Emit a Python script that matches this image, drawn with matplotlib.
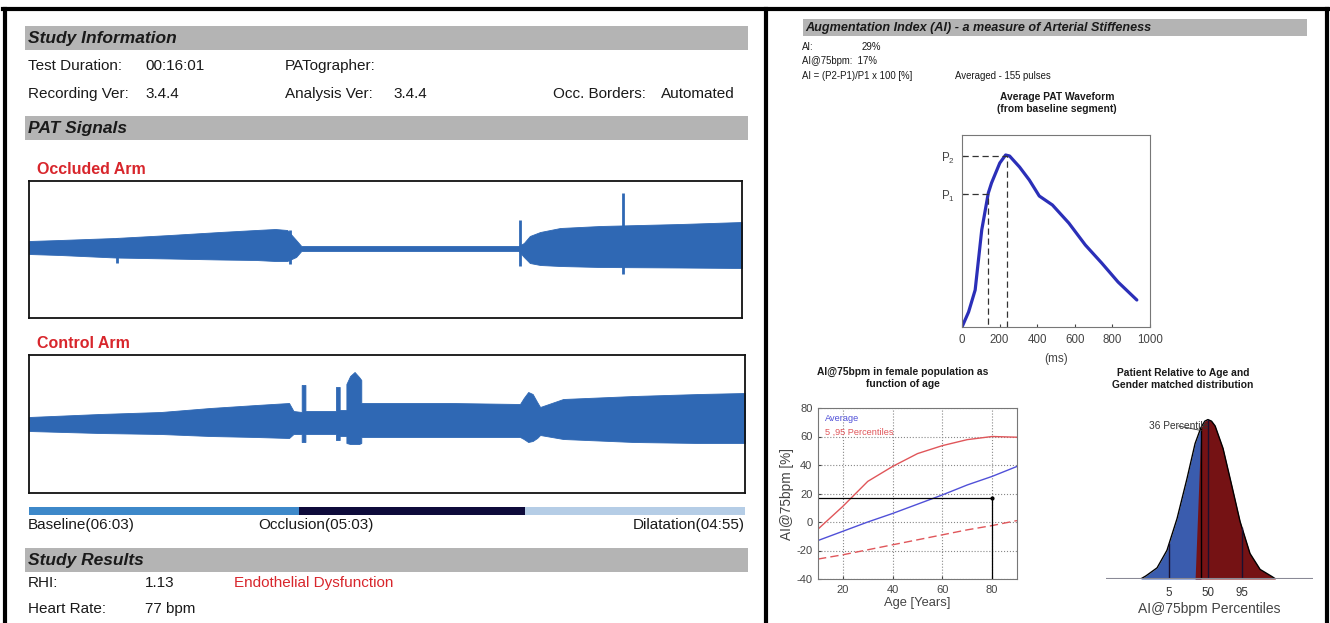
import numpy as np
import matplotlib
matplotlib.use('Agg')
import matplotlib.pyplot as plt
import matplotlib.font_manager as fm
from matplotlib.patches import Rectangle
from matplotlib.lines import Line2D

W, H = 1330, 623

duration_s = 961
phase_names = ['Baseline(06:03)', 'Occlusion(05:03)', 'Dilatation(04:55)']
phase_len_s = [363, 303, 295]
phase_colors = ['#3d88c9', '#0e0b3b', '#b5cde6']

# occluded arm envelope (time in s, amplitude a.u.)
occ_t = [0, 42, 116, 190, 257, 306, 332, 348, 360, 367, 660, 667, 675, 689, 716, 770, 878, 961]
occ_top = [8.5, 9.5, 11.5, 14.5, 17.5, 19.5, 20.5, 19.5, 9.5, 3.5, 3.5, 6.5, 13.5, 17.5, 21.5, 23.5, 25.5, 27.5]
occ_bot = [-4.5, -5.5, -8, -9, -10, -10.5, -11.5, -11.5, -7.5, -1.5, -1.5, -7.5, -13.5, -15.5, -16.5, -17.5, -18, -18.5]
occ_spike_t = [119, 352, 662, 801]
occ_spike_top = [11.5, 19.5, 30, 56.5]
occ_spike_bot = [-13, -14.5, -16.5, -24.5]

# control arm envelope
ctl_t = [0, 95, 177, 243, 305, 349, 355, 366, 366, 371, 371, 412, 412, 417, 417,
         426, 426, 431, 437, 443, 446, 446, 565, 659, 664, 670, 676, 682, 686, 717, 812, 900, 961]
ctl_top = [7, 10, 12, 16, 19, 21, 13, 12, 39, 39, 13, 13, 37, 37, 14,
           14, 40, 48, 52, 47, 44, 21, 21, 20, 26, 32, 30, 22, 17, 25, 28, 30, 31]
ctl_bot = [-7, -9, -10, -12, -13, -14, -10, -10, -18, -18, -10, -10, -16, -16, -12,
           -12, -19, -20, -20, -20, -19, -13, -13, -13, -15, -18, -17, -14, -11, -15, -18, -19, -19]

# average PAT waveform
wave_ms = [0, 35, 70, 105, 140, 157, 201, 232, 253, 306, 358, 411, 481, 568, 656, 743, 830, 930]
wave_amp = [0, 15, 37, 97, 134, 144, 164, 172, 171, 160, 147, 131, 122, 104, 82, 64, 45, 27]
p1_ms, p1_amp = 140, 133
p2_ms, p2_amp = 240, 171

# AI@75bpm vs age (female population)
age_years = [10, 20, 30, 40, 50, 60, 70, 80, 90]
ai_avg = [-13, -6.5, 0, 6, 12.5, 19, 26, 32, 39]
ai_p95 = [-5, 11, 28.5, 39, 48, 53.6, 57.8, 60, 59.5]
ai_p5 = [-26, -23, -19.5, -16, -12.5, -9, -5.5, -2.5, 1]
patient_age, patient_ai = 80, 17

# percentile distribution (x in sd units, relative height)
bell_z = [-2.95, -2.71, -2.22, -1.78, -1.33, -0.89, -0.53, -0.27, -0.1, 0.04, 0.2, 0.36, 0.71,
          1.11, 1.47, 1.91, 2.36, 2.89, 3.05]
bell_h = [0.0, 0.02, 0.07, 0.18, 0.38, 0.63, 0.85, 0.95, 0.99, 1.0, 0.99, 0.96, 0.82,
          0.58, 0.36, 0.16, 0.06, 0.015, 0.0]
pct_labels = ['5', '50', '95']
pct_z = [-1.69, 0.04, 1.56]
patient_z = -0.27

# ---------------- fonts ----------------
names = {f.name for f in fm.fontManager.ttflist}
NARROW = 'Liberation Sans Narrow' if 'Liberation Sans Narrow' in names else 'Liberation Sans'
plt.rcParams['font.family'] = ['Liberation Sans', 'DejaVu Sans']
plt.rcParams['mathtext.default'] = 'regular'
plt.rcParams['axes.unicode_minus'] = False

fig = plt.figure(figsize=(W / 100, H / 100), dpi=100)
fig.patch.set_facecolor('white')


def box(l, t, r, b):
    return [l / W, 1 - b / H, (r - l) / W, (b - t) / H]


def txt(x, y, s, **kw):
    kw.setdefault('va', 'center')
    kw.setdefault('color', '#1a1a1a')
    fig.text(x / W, 1 - y / H, s, **kw)


def bar(l, t, r, b, color='#b4b4b4'):
    fig.patches.append(Rectangle((l / W, 1 - b / H), (r - l) / W, (b - t) / H,
                                 transform=fig.transFigure, color=color, lw=0))


def line(x0, y0, x1, y1, lw=3):
    fig.add_artist(Line2D([x0 / W, x1 / W], [1 - y0 / H, 1 - y1 / H], color='black', lw=lw))


# frame
line(3, 9, 1328, 9)
line(5, 9, 5, 623)
line(1327, 9, 1327, 623)
line(766, 9, 766, 623)

# ---------------- left panel ----------------
hdr = dict(fontsize=12.5, fontweight='bold', fontstyle='italic', family=NARROW)
nrm = dict(fontsize=11, family=NARROW)

bar(25, 26, 748, 50)
txt(28, 38, 'Study Information', **hdr)
txt(28, 66, 'Test Duration:', **nrm)
txt(145, 66, '00:16:01', **nrm)
txt(285, 66, 'PATographer:', **nrm)
txt(28, 94, 'Recording Ver:', **nrm)
txt(145, 94, '3.4.4', **nrm)
txt(285, 94, 'Analysis Ver:', **nrm)
txt(393, 94, '3.4.4', **nrm)
txt(553, 94, 'Occ. Borders:', **nrm)
txt(661, 94, 'Automated', **nrm)

bar(25, 116, 748, 140)
txt(28, 128, 'PAT Signals', **hdr)

red = '#d8262c'
sig = '#2f68b4'
txt(37, 169, 'Occluded Arm', color=red, fontsize=11.5, fontweight='bold', family=NARROW)
ax1 = fig.add_axes(box(29, 181, 742, 318))
ax1.fill_between(occ_t, occ_bot, occ_top, color=sig, lw=0.6)
ax1.vlines(occ_spike_t, occ_spike_bot, occ_spike_top, color=sig, lw=2)
ax1.set_xlim(0, duration_s)
ax1.set_ylim(-68.5, 68.5)

txt(37, 344, 'Control Arm', color=red, fontsize=11.5, fontweight='bold', family=NARROW)
ax2 = fig.add_axes(box(29, 355, 745, 493))
ax2.fill_between(ctl_t, ctl_bot, ctl_top, color=sig, lw=0.6)
ax2.set_xlim(0, duration_s)
ax2.set_ylim(-69, 69)

for ax in (ax1, ax2):
    ax.set_xticks([])
    ax.set_yticks([])
    for s in ax.spines.values():
        s.set_linewidth(1.3)
        s.set_color('#111111')

axb = fig.add_axes(box(29, 507, 745, 515))
axb.barh([0], phase_len_s, left=np.cumsum([0] + phase_len_s[:-1]), color=phase_colors, height=1)
axb.set_xlim(0, duration_s)
axb.set_ylim(-0.5, 0.5)
axb.axis('off')
txt(28, 525, phase_names[0], **nrm)
txt(258, 525, phase_names[1], **nrm)
txt(745, 525, phase_names[2], ha='right', **nrm)

bar(25, 548, 748, 572)
txt(28, 560, 'Study Results', **hdr)
txt(28, 583, 'RHI:', **nrm)
txt(145, 583, '1.13', **nrm)
txt(234, 583, 'Endothelial Dysfunction', color=red, fontsize=11, family=NARROW)
txt(28, 609, 'Heart Rate:', **nrm)
txt(145, 609, '77 bpm', **nrm)

# ---------------- right panel ----------------
bar(803, 19, 1307, 36)
txt(805, 27.5, 'Augmentation Index (AI) - a measure of Arterial Stiffeness',
    fontsize=9.1, fontweight='bold', fontstyle='italic')
sm = dict(fontsize=6.9)
txt(802, 47, 'AI:', **sm)
txt(862, 47, '29%', **sm)
txt(802, 61, 'AI@75bpm:  17%', **sm)
txt(802, 76, 'AI = (P2-P1)/P1 x 100 [%]', **sm)
txt(955, 76, 'Averaged - 155 pulses', **sm)
txt(1057, 103, 'Average PAT Waveform\n(from baseline segment)', ha='center', fontsize=7.4,
    fontweight='bold', linespacing=1.25)

axw = fig.add_axes(box(962, 135, 1150, 327))
axw.plot(wave_ms, wave_amp, color='#2b2fb8', lw=2.3, solid_capstyle='round')
dash = dict(color='#333333', lw=0.9, ls=(0, (5, 3)))
axw.plot([0, p2_ms, p2_ms], [p2_amp, p2_amp, 0], **dash)
axw.plot([0, p1_ms, p1_ms], [p1_amp, p1_amp, 0], **dash)
axw.set_xlim(0, 1000)
axw.set_ylim(0, 192)
axw.set_xticks(range(0, 1001, 200))
axw.set_yticks([p1_amp, p2_amp])
axw.set_yticklabels(['P$_1$', 'P$_2$'])
axw.tick_params(labelsize=8.3, length=2, direction='in', colors='#444444', pad=5)
axw.set_xlabel('(ms)', fontsize=8.5, color='#444444', labelpad=5)
for s in axw.spines.values():
    s.set_color('#777777')
    s.set_linewidth(0.8)

# age plot
txt(903, 378, 'AI@75bpm in female population as\nfunction of age', ha='center', fontsize=7.4,
    fontweight='bold', linespacing=1.25)
axa = fig.add_axes(box(818, 408, 1017, 579))
axa.plot(age_years, ai_avg, color='#5050d8', lw=1)
axa.plot(age_years, ai_p95, color='#e0565a', lw=1)
axa.plot(age_years, ai_p5, color='#e0565a', lw=1, ls=(0, (6, 3)))
axa.plot([10, patient_age, patient_age], [patient_ai, patient_ai, -40], color='black', lw=0.9)
axa.plot([patient_age], [patient_ai], 'o', color='black', ms=2)
axa.set_xlim(10, 90)
axa.set_ylim(-40, 80)
axa.set_xticks([20, 40, 60, 80])
axa.set_yticks(range(-40, 81, 20))
axa.grid(True, ls=':', color='#888888', lw=0.8)
axa.tick_params(labelsize=8, length=2, direction='in', colors='#444444', pad=4)
axa.set_xlabel('Age [Years]', fontsize=9.3, color='#444444', labelpad=2)
axa.set_ylabel('AI@75bpm [%]', fontsize=9.8, color='#444444', labelpad=2)
axa.text(13, 71, 'Average', color='#5050d8', fontsize=6.6)
axa.text(13, 61, '5 ,95 Percentiles', color='#e0565a', fontsize=6.6)
for s in axa.spines.values():
    s.set_color('#777777')
    s.set_linewidth(0.8)

# distribution plot
txt(1183, 379, 'Patient Relative to Age and\nGender matched distribution', ha='center', fontsize=7.4,
    fontweight='bold', linespacing=1.25)
axd = fig.add_axes(box(1106, 410, 1313, 579))
z = np.array(bell_z)
h = np.array(bell_h)
axd.fill_between(z, 0, h, where=z <= patient_z, color='#3a5cae', lw=0, interpolate=True)
axd.fill_between(z, 0, h, where=z >= patient_z, color='#751214', lw=0, interpolate=True)
axd.plot(z, h, color='black', lw=1)
for pz in pct_z:
    axd.plot([pz, pz], [0, np.interp(pz, z, h)], color='#1a1030', lw=1)
axd.plot([patient_z, patient_z], [0, np.interp(patient_z, z, h)], color='black', lw=1)
axd.axhline(0, color='#8a8a96', lw=1.5)
axd.annotate('36 Percentile', xy=(patient_z + 0.05, np.interp(patient_z, z, h) - 0.02),
             xytext=(0.05, 0.96), ha='right', va='center', fontsize=7.3, color='#333333',
             arrowprops=dict(arrowstyle='-', color='#333333', lw=0.6, shrinkA=0, shrinkB=0))
axd.set_xlim(-4.49, 4.71)
axd.set_ylim(0, 1.06)
axd.set_xticks(pct_z)
axd.set_xticklabels(pct_labels)
axd.tick_params(labelsize=8.3, length=0, colors='#333333', pad=6)
axd.set_yticks([])
for s in axd.spines.values():
    s.set_visible(False)
axd.set_xlabel('AI@75bpm Percentiles', fontsize=10, color='#444444', labelpad=2)

fig.savefig('out.png', dpi=100)
